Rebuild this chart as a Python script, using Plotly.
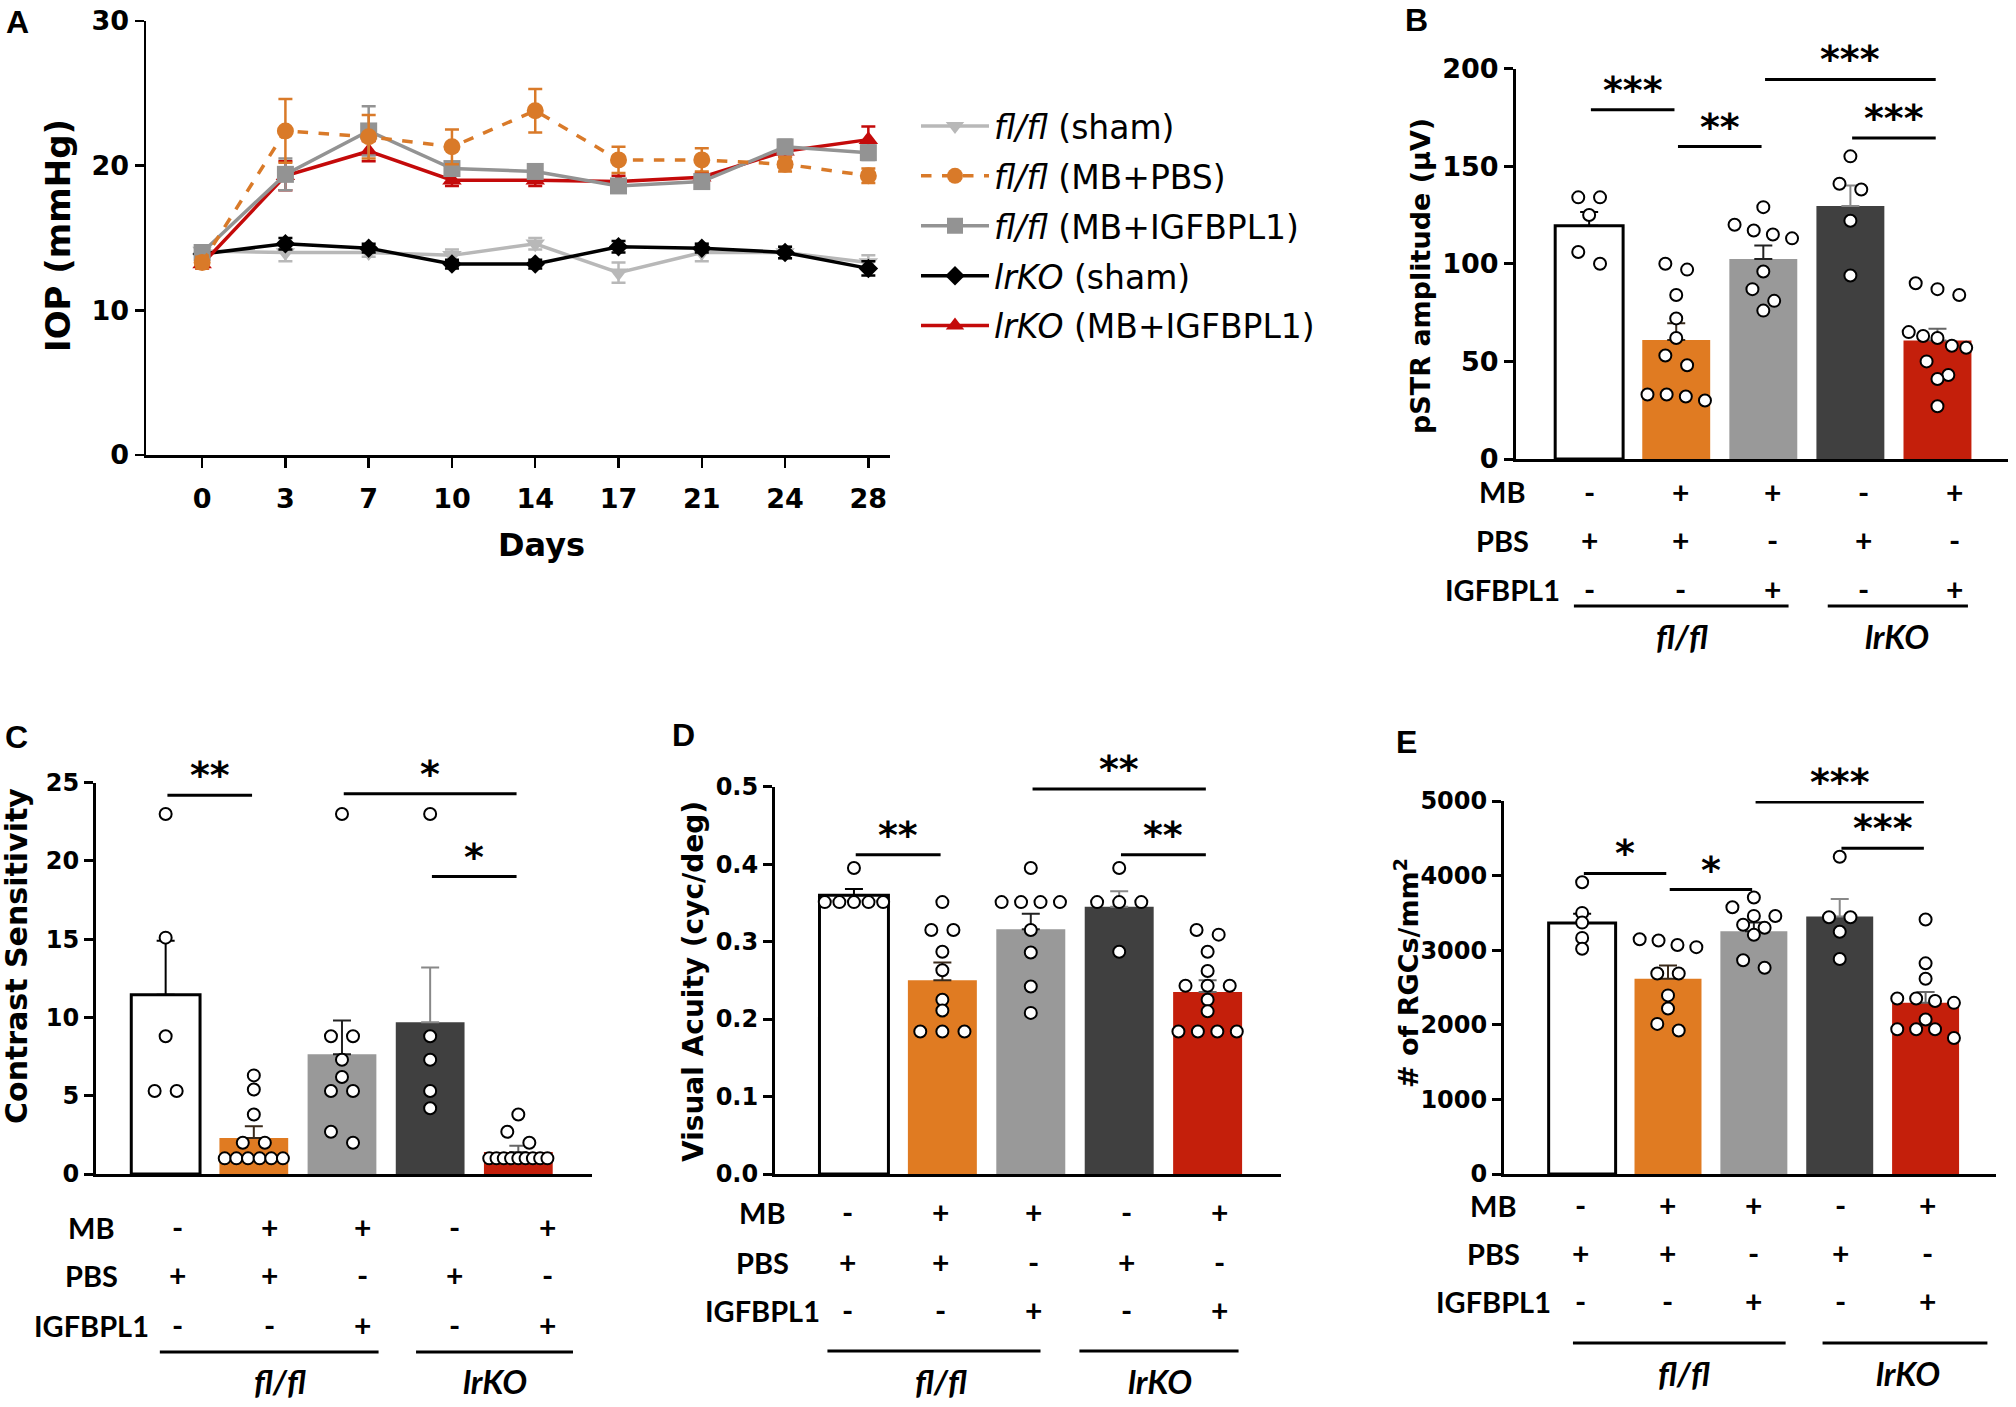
import plotly.graph_objects as go
import numpy as np

W, H = 2016, 1407

# ---------------- DATA ----------------
days = ["0", "3", "7", "10", "14", "17", "21", "24", "28"]
iop_flfl_sham = [14.1, 14.0, 14.0, 13.8, 14.6, 12.6, 14.0, 14.0, 13.3]
iop_flfl_sham_sem = [0.3, 0.6, 0.3, 0.4, 0.4, 0.7, 0.6, 0.4, 0.5]
iop_flfl_pbs = [13.3, 22.4, 22.0, 21.3, 23.8, 20.4, 20.4, 20.1, 19.3]
iop_flfl_pbs_sem = [0.4, 2.2, 1.5, 1.2, 1.5, 0.9, 0.8, 0.5, 0.5]
iop_flfl_igf = [14.0, 19.4, 22.4, 19.8, 19.6, 18.6, 18.9, 21.3, 20.9]
iop_flfl_igf_sem = [0.3, 1.1, 1.7, 0.4, 0.4, 0.4, 0.4, 0.5, 0.5]
iop_lrko_sham = [13.9, 14.6, 14.3, 13.2, 13.2, 14.4, 14.3, 14.0, 12.9]
iop_lrko_sham_sem = [0.3, 0.4, 0.3, 0.3, 0.3, 0.4, 0.3, 0.4, 0.5]
iop_lrko_igf = [13.2, 19.3, 21.0, 19.0, 19.0, 18.9, 19.2, 21.0, 21.8]
iop_lrko_igf_sem = [0.3, 1.0, 0.7, 0.4, 0.4, 0.4, 0.3, 0.4, 0.9]

mb_row = ["-", "+", "+", "-", "+"]
pbs_row = ["+", "+", "-", "+", "-"]
igf_row = ["-", "-", "+", "-", "+"]

pstr_mean = [119.5, 61.0, 102.4, 129.6, 60.7]
pstr_sem = [7.0, 8.5, 7.0, 10.5, 6.0]
pstr_points = [
    [134, 134, 125, 100, 106],
    [100, 97, 84, 72, 62, 53, 48, 33, 33, 30, 32],
    [129, 120, 117, 115, 113, 96, 87, 81, 76],
    [155, 138, 141, 122, 94],
    [90, 87, 84, 62, 65, 57, 63, 43, 41, 50, 27, 58],
]

cs_mean = [11.45, 2.3, 7.65, 9.7, 1.4]
cs_sem = [3.45, 0.75, 2.15, 3.5, 0.4]
cs_points = [
    [23, 15.1, 8.8, 5.3, 5.3],
    [6.3, 5.4, 3.8, 2.0, 2.0, 1.0, 1.0, 1.0, 1.0, 1.0, 1.0],
    [23, 8.8, 8.8, 7.3, 6.2, 5.3, 5.3, 2.7, 2.0],
    [23, 8.8, 7.3, 5.3, 4.2],
    [3.8, 2.7, 2.0, 1.0, 1.0, 1.0, 1.0, 1.0, 1.0, 1.0, 1.0, 1.0],
]

va_mean = [0.360, 0.250, 0.316, 0.345, 0.235]
va_sem = [0.008, 0.023, 0.020, 0.020, 0.015]
va_points = [
    [0.395, 0.351, 0.351, 0.351, 0.351, 0.351],
    [0.351, 0.315, 0.315, 0.287, 0.263, 0.225, 0.211, 0.184, 0.184, 0.184],
    [0.395, 0.351, 0.351, 0.351, 0.351, 0.315, 0.286, 0.242, 0.208],
    [0.395, 0.351, 0.351, 0.351, 0.287],
    [0.315, 0.309, 0.287, 0.262, 0.243, 0.243, 0.243, 0.225, 0.210, 0.184, 0.184, 0.184, 0.184],
]

rgc_mean = [3365, 2618, 3253, 3453, 2294]
rgc_sem = [123, 176, 117, 235, 147]
rgc_points = [
    [3910, 3500, 3370, 3165, 3020],
    [3147, 3130, 3070, 3041, 2688, 2688, 2394, 2218, 2012, 1924],
    [3706, 3576, 3460, 3459, 3341, 3300, 3206, 2865, 2765],
    [4253, 3441, 3441, 3247, 2882],
    [3412, 2824, 2618, 2353, 2353, 2320, 2294, 2071, 1941, 1941, 1941, 1824],
]

sig_B = [(0, 1, 178.9, "***"), (1, 2, 160.0, "**"), (2, 4, 194.4, "***"), (3, 4, 164.4, "***")]
sig_C = [(0, 1, 24.2, "**"), (2, 4, 24.3, "*"), (3, 4, 19.0, "*")]
sig_D = [(0, 1, 0.412, "**"), (2, 4, 0.497, "**"), (3, 4, 0.412, "**")]
sig_E = [(0, 1, 4029, "*"), (1, 2, 3812, "*"), (2, 4, 4988, "***"), (3, 4, 4365, "***")]

# ---------------- STYLE / LAYOUT ----------------
BAR_COLORS = ["#FFFFFF", "#E07B22", "#999999", "#404040", "#C41F0B"]
ERR_COLORS = ["#000000", "#3a2a1a", "#222222", "#888888", "#666666"]
DJ = "DejaVu Sans"
LATO = "Lato"

# panel geometry in pixels: x-domain (left,right), y-domain (bottom,top), ranges
panels = {
    "A": dict(xd=(146, 890), yd=(455, 21), xr=(-0.674, 8.26), yr=(0, 30)),
    "B": dict(xd=(1516, 2008), yd=(459, 68.5), xr=(-0.84, 4.81), yr=(0, 200)),
    "C": dict(xd=(96, 591.5), yd=(1174, 782.7), xr=(-0.79, 4.83), yr=(0, 25)),
    "D": dict(xd=(775, 1281), yd=(1174, 786.7), xr=(-0.893, 4.83), yr=(0, 0.5)),
    "E": dict(xd=(1504, 1996), yd=(1174, 801), xr=(-0.91, 4.82), yr=(0, 5000)),
}
axid = {"A": "", "B": "2", "C": "3", "D": "4", "E": "5"}


def fx(px):
    return px / W


def fy(py):
    return 1 - py / H


def data_to_paper_x(p, x):
    g = panels[p]
    d0, d1 = fx(g["xd"][0]), fx(g["xd"][1])
    r0, r1 = g["xr"]
    return d0 + (x - r0) / (r1 - r0) * (d1 - d0)


def swarm(vals, tol, step=0.25, maxspan=0.66):
    vals = np.asarray(vals, dtype=float)
    order = np.argsort(-vals, kind="stable")
    offs = np.zeros(len(vals))
    rows, cur = [], []
    for idx in order:
        if cur and vals[cur[0]] - vals[idx] > tol:
            rows.append(cur)
            cur = []
        cur.append(idx)
    rows.append(cur)
    for r in rows:
        k = len(r)
        if k > 1:
            s = min(step, maxspan / (k - 1))
            for j, idx in enumerate(r):
                offs[idx] = (j - (k - 1) / 2) * s
    return offs


fig = go.Figure()

# ---------------- Panel A ----------------
a_series = [
    ("<i>fl/fl</i> (sham)", iop_flfl_sham, iop_flfl_sham_sem, "#B8B8B8", "triangle-down", "solid", 1),
    ("<i>lrKO</i> (sham)", iop_lrko_sham, iop_lrko_sham_sem, "#000000", "diamond", "solid", 4),
    ("<i>lrKO</i> (MB+IGFBPL1)", iop_lrko_igf, iop_lrko_igf_sem, "#C40A0A", "triangle-up", "solid", 5),
    ("<i>fl/fl</i> (MB+IGFBPL1)", iop_flfl_igf, iop_flfl_igf_sem, "#939393", "square", "solid", 3),
    ("<i>fl/fl</i> (MB+PBS)", iop_flfl_pbs, iop_flfl_pbs_sem, "#D97A29", "circle", "dash", 2),
]
xs_days = list(range(len(days)))
for name, vals, sem, col, sym, dash, rank in a_series:
    fig.add_trace(go.Scatter(
        x=xs_days, y=vals, name=name, mode="lines+markers",
        line=dict(color=col, width=3.5, dash=dash),
        marker=dict(color=col, symbol=sym, size=17 if sym != "diamond" else 15),
        error_y=dict(type="data", array=sem, color=col, thickness=2.5, width=7),
        legendrank=rank, legendgroup="g%d" % rank, showlegend=True,
        xaxis="x", yaxis="y", cliponaxis=False,
    ))

# ---------------- Bar panels ----------------
bar_panels = [
    ("B", pstr_mean, pstr_sem, pstr_points, sig_B, 0.04),
    ("C", cs_mean, cs_sem, cs_points, sig_C, 0.03),
    ("D", va_mean, va_sem, va_points, sig_D, 0.025),
    ("E", rgc_mean, rgc_sem, rgc_points, sig_E, 0.025),
]
shapes = []
annotations = []

for p, means, sems, pts, sigs, tolf in bar_panels:
    xa, ya = "x" + axid[p], "y" + axid[p]
    yr = panels[p]["yr"]
    for i in range(5):
        fig.add_trace(go.Bar(
            x=[i], y=[means[i]], width=0.78,
            marker=dict(color=BAR_COLORS[i],
                        line=dict(color="#000000" if i == 0 else BAR_COLORS[i], width=3 if i == 0 else 0)),
            error_y=dict(type="data", array=[sems[i]], arrayminus=[0], symmetric=False,
                         color=ERR_COLORS[i], thickness=2, width=9),
            showlegend=False, xaxis=xa, yaxis=ya,
        ))
    for i in range(5):
        offs = swarm(pts[i], tolf * (yr[1] - yr[0]))
        fig.add_trace(go.Scatter(
            x=i + offs, y=pts[i], mode="markers",
            marker=dict(color="#FFFFFF", size=12, line=dict(color="#000000", width=2)),
            showlegend=False, xaxis=xa, yaxis=ya, cliponaxis=False,
        ))
    for (i, j, yv, lab) in sigs:
        shapes.append(dict(type="line", xref=xa, yref=ya, x0=i + 0.02, x1=j - 0.02, y0=yv, y1=yv,
                           line=dict(color="#000000", width=3)))
        annotations.append(dict(x=(i + j) / 2, y=yv, xref=xa, yref=ya, text=lab, showarrow=False,
                                yanchor="bottom", yshift=-4,
                                font=dict(family=DJ, size=38, color="#000000", weight="bold")))

# treatment tables
table_cfg = {
    "B": dict(rows=(492, 540, 589), ul=606, lab=636, lx=1502, off=0.0, sc=1.05,
              spans=((-0.175, 2.29), (2.74, 4.35)), centers=(1.07, 3.53)),
    "C": dict(rows=(1227, 1275, 1325), ul=1352, lab=1381, lx=91, off=0.13, sc=1.05,
              spans=((-0.066, 2.415), (2.84, 4.62)), centers=(1.3, 3.74)),
    "D": dict(rows=(1212, 1262, 1310), ul=1351, lab=1381, lx=762, off=-0.07, sc=1.05,
              spans=((-0.30, 2.11), (2.55, 4.35)), centers=(0.99, 3.46)),
    "E": dict(rows=(1205, 1253, 1301), ul=1343, lab=1373, lx=1493, off=-0.02, sc=1.01,
              spans=((-0.107, 2.37), (2.8, 4.72)), centers=(1.19, 3.8)),
}
row_names = ["MB", "PBS", "IGFBPL1"]
row_signs = [mb_row, pbs_row, igf_row]
for p, cfg in table_cfg.items():
    xa = "x" + axid[p]
    for r in range(3):
        annotations.append(dict(x=fx(cfg["lx"]), y=fy(cfg["rows"][r]), xref="paper", yref="paper",
                                text=row_names[r], showarrow=False, xanchor="center", yanchor="middle",
                                font=dict(family=LATO, size=29, color="#000000", weight="bold")))
        for i in range(5):
            annotations.append(dict(x=cfg["off"] + i * cfg["sc"], y=fy(cfg["rows"][r]), xref=xa, yref="paper",
                                    text=row_signs[r][i], showarrow=False, xanchor="center", yanchor="middle",
                                    font=dict(family=LATO, size=30, color="#000000", weight="bold")))
    for (s0, s1) in cfg["spans"]:
        shapes.append(dict(type="line", xref="paper", yref="paper",
                           x0=data_to_paper_x(p, s0), x1=data_to_paper_x(p, s1),
                           y0=fy(cfg["ul"]), y1=fy(cfg["ul"]), line=dict(color="#000000", width=3)))
    for c, t in zip(cfg["centers"], ["<i>fl/fl</i>", "<i>lrKO</i>"]):
        annotations.append(dict(x=c, y=fy(cfg["lab"]), xref=xa, yref="paper", text=t, showarrow=False,
                                xanchor="center", yanchor="middle",
                                font=dict(family=LATO, size=33, color="#000000", weight="bold")))

# axis titles & panel letters
titles = [
    ("IOP (mmHg)", 58, 236, -90, 34),
    ("Days", 541, 545, 0, 32),
    ("pSTR amplitude (μV)", 1420, 276, -90, 27),
    ("Contrast Sensitivity", 17, 956, -90, 30),
    ("Visual Acuity (cyc/deg)", 693, 982, -90, 28),
    ("# of RGCs/mm<sup>2</sup>", 1406, 973, -90, 27),
]
for t, x, y, ang, sz in titles:
    annotations.append(dict(x=fx(x), y=fy(y), xref="paper", yref="paper", text=t, showarrow=False,
                            textangle=ang, xanchor="center", yanchor="middle",
                            font=dict(family=DJ, size=sz, color="#000000", weight="bold")))
letters = [("A", 17, 22), ("B", 1416, 20), ("C", 16, 737), ("D", 683, 735), ("E", 1406, 742)]
for t, x, y in letters:
    annotations.append(dict(x=fx(x), y=fy(y), xref="paper", yref="paper", text=t, showarrow=False,
                            xanchor="center", yanchor="middle",
                            font=dict(family="Liberation Sans", size=32, color="#000000", weight="bold")))

# axes
layout_axes = {}
tick_sizes = {"A": 27, "B": 27, "C": 24, "D": 24, "E": 24}
y_ticks = {
    "A": [0, 10, 20, 30],
    "B": [0, 50, 100, 150, 200],
    "C": [0, 5, 10, 15, 20, 25],
    "D": [0, 0.1, 0.2, 0.3, 0.4, 0.5],
    "E": [0, 1000, 2000, 3000, 4000, 5000],
}
for p, g in panels.items():
    k = axid[p]
    lw = 2.5 if p == "A" else 3
    xax = dict(domain=[fx(g["xd"][0]), fx(g["xd"][1])], range=list(g["xr"]), anchor="y" + k,
               showline=True, linecolor="#000000", linewidth=lw, showgrid=False, zeroline=False,
               fixedrange=True, automargin=False)
    if p == "A":
        xax.update(tickmode="array", tickvals=xs_days, ticktext=days, ticks="outside", ticklen=10,
                   tickwidth=2.5, tickcolor="#000000", ticklabelstandoff=8,
                   tickfont=dict(family=DJ, size=tick_sizes[p], color="#000000", weight="bold"))
    else:
        xax.update(showticklabels=False, ticks="")
    yax = dict(domain=[fy(g["yd"][0]), fy(g["yd"][1])], range=list(g["yr"]), anchor="x" + k,
               showline=True, linecolor="#000000", linewidth=lw, showgrid=False, zeroline=False,
               tickmode="array", tickvals=y_ticks[p], ticks="outside", ticklen=9, tickwidth=lw,
               tickcolor="#000000", fixedrange=True, automargin=False,
               tickformat=".1f" if p == "D" else "d",
               tickfont=dict(family=DJ, size=tick_sizes[p], color="#000000", weight="bold"))
    layout_axes["xaxis" + k] = xax
    layout_axes["yaxis" + k] = yax

fig.update_layout(
    width=W, height=H, autosize=False,
    margin=dict(l=0, r=0, t=0, b=0, pad=0, autoexpand=False),
    paper_bgcolor="#FFFFFF", plot_bgcolor="rgba(0,0,0,0)",
    barmode="overlay",
    showlegend=True,
    legend=dict(x=fx(916), y=fy(98), xanchor="left", yanchor="top",
                font=dict(family=DJ, size=33, color="#000000"),
                bgcolor="rgba(0,0,0,0)", tracegroupgap=4, itemwidth=68,
                traceorder="grouped"),
    shapes=shapes, annotations=annotations,
    **layout_axes,
)

fig.write_html("out.html", config={"displayModeBar": False, "staticPlot": True},
               post_script="document.body.style.margin='0';document.body.style.overflow='hidden';")
